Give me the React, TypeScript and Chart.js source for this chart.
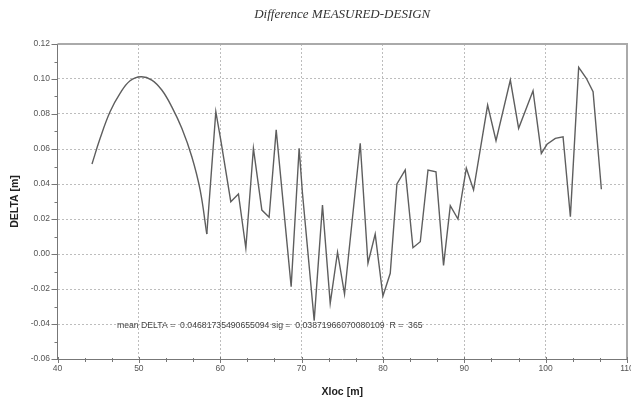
import React, { useEffect, useRef } from "react";
import { Chart, registerables } from "chart.js";

Chart.register(...registerables);

const chartTitle = "Difference MEASURED-DESIGN";
const xAxisTitle = "Xloc [m]";
const yAxisTitle = "DELTA [m]";
const statsText = "mean DELTA =  0.04681735490655094 sig =  0.03871966070080109  R =  365";

const xTickValues = [40, 50, 60, 70, 80, 90, 100, 110];
const xTickLabels = ["40", "50", "60", "70", "80", "90", "100", "110"];
const yTickValues = [-0.06, -0.04, -0.02, 0, 0.02, 0.04, 0.06, 0.08, 0.1, 0.12];
const yTickLabels = ["-0.06", "-0.04", "-0.02", "0.00", "0.02", "0.04", "0.06", "0.08", "0.10", "0.12"];
const xMinorPerMajor = 3;
const yMinorPerMajor = 2;

// smooth arc at the start of the run
const arcX = [44.24, 45.23, 46.46, 47.69, 48.92, 50.27, 51.59, 52.82, 54.05, 55.28, 56.51, 57.53, 58.35];
const arcDelta = [0.0514, 0.066, 0.0813, 0.0918, 0.099, 0.1013, 0.0994, 0.0937, 0.0841, 0.0718, 0.0556, 0.0366, 0.0114];

// measured zig-zag part
const zigX = [
  58.35, 59.46, 60.07, 61.3, 62.24, 63.15, 64.08, 65.12, 66.01, 66.88, 68.72, 69.7, 70.11, 71.55,
  72.57, 73.52, 74.42, 75.28, 77.21, 78.16, 79.05, 80.0, 80.9, 81.72, 82.74, 83.69, 84.59, 85.54,
  86.52, 87.45, 88.28, 89.22, 90.25, 91.14, 92.87, 93.9, 95.66, 96.68, 98.45, 99.47, 100.17,
  101.19, 102.14, 103.04, 104.06, 105.0, 105.83, 106.85,
];
const zigDelta = [
  0.0114, 0.0813, 0.0651, 0.0299, 0.0343, 0.0033, 0.0604, 0.0251, 0.021, 0.0709, -0.0187, 0.0604,
  0.0347, -0.0381, 0.028, -0.0282, 0.001, -0.0229, 0.0633, -0.0053, 0.0114, -0.024, -0.011, 0.04,
  0.048, 0.0036, 0.007, 0.048, 0.047, -0.0065, 0.0276, 0.02, 0.049, 0.0366, 0.0851, 0.0647, 0.0994,
  0.0718, 0.0933, 0.0575, 0.0627, 0.0661, 0.067, 0.0213, 0.1067, 0.1004, 0.0927, 0.037,
];

const SANS = "'Liberation Sans', Arial, sans-serif";
const SERIF = "'Liberation Serif', 'Times New Roman', serif";

const decorPlugin = {
  id: "decor",
  beforeDatasetsDraw(chart: any) {
    const { ctx } = chart;
    const xs = chart.scales.x;
    const ys = chart.scales.y;
    ctx.save();
    ctx.font = `8.7px ${SANS}`;
    ctx.fillStyle = "#444";
    ctx.textBaseline = "middle";
    ctx.textAlign = "left";
    ctx.fillText(statsText, xs.getPixelForValue(47.3), ys.getPixelForValue(-0.041));
    ctx.restore();
  },
  afterDraw(chart: any) {
    const { ctx, chartArea } = chart;
    const { left, right, top, bottom } = chartArea;
    const xs = chart.scales.x;
    const ys = chart.scales.y;
    ctx.save();
    // title
    ctx.font = `italic 13px ${SERIF}`;
    ctx.fillStyle = "#333";
    ctx.textAlign = "center";
    ctx.textBaseline = "middle";
    ctx.fillText(chartTitle, (left + right) / 2, 15);

    // frame top & right
    ctx.strokeStyle = "#aaa";
    ctx.lineWidth = 2;
    ctx.beginPath();
    ctx.moveTo(left, top);
    ctx.lineTo(right, top);
    ctx.lineTo(right, bottom);
    ctx.stroke();

    // tick marks
    ctx.strokeStyle = "#777";
    ctx.lineWidth = 1;
    ctx.beginPath();
    for (let i = 0; i < xTickValues.length; i++) {
      const p = Math.round(xs.getPixelForValue(xTickValues[i])) + 0.5;
      ctx.moveTo(p, bottom - 2);
      ctx.lineTo(p, bottom + 4);
      if (i < xTickValues.length - 1) {
        const a = xTickValues[i];
        const b = xTickValues[i + 1];
        for (let k = 1; k < xMinorPerMajor; k++) {
          const q = Math.round(xs.getPixelForValue(a + ((b - a) * k) / xMinorPerMajor)) + 0.5;
          ctx.moveTo(q, bottom - 1);
          ctx.lineTo(q, bottom + 3);
        }
      }
    }
    for (let i = 0; i < yTickValues.length; i++) {
      const p = Math.round(ys.getPixelForValue(yTickValues[i])) + 0.5;
      ctx.moveTo(left - 6, p);
      ctx.lineTo(left, p);
      if (i < yTickValues.length - 1) {
        const a = yTickValues[i];
        const b = yTickValues[i + 1];
        for (let k = 1; k < yMinorPerMajor; k++) {
          const q = Math.round(ys.getPixelForValue(a + ((b - a) * k) / yMinorPerMajor)) + 0.5;
          ctx.moveTo(left - 3, q);
          ctx.lineTo(left, q);
        }
      }
    }
    ctx.stroke();
    ctx.restore();
  },
};

export default function App() {
  const canvasRef = useRef<HTMLCanvasElement | null>(null);

  useEffect(() => {
    if (!canvasRef.current) return;
    const lineColor = "#5e5e5e";
    const chart = new Chart(canvasRef.current, {
      type: "line",
      data: {
        datasets: [
          {
            data: arcX.map((x, i) => ({ x, y: arcDelta[i] })),
            borderColor: lineColor,
            borderWidth: 1.4,
            pointRadius: 0,
            fill: false,
            tension: 0.4,
          },
          {
            data: zigX.map((x, i) => ({ x, y: zigDelta[i] })),
            borderColor: lineColor,
            borderWidth: 1.4,
            pointRadius: 0,
            fill: false,
            tension: 0,
          },
        ],
      },
      options: {
        animation: false,
        responsive: false,
        devicePixelRatio: 1,
        layout: { padding: { top: 44, right: 4, bottom: 0, left: 0 } },
        plugins: {
          legend: { display: false },
          tooltip: { enabled: false },
          title: { display: false },
        },
        scales: {
          x: {
            type: "linear",
            min: 40,
            max: 110,
            afterBuildTicks: (s: any) => {
              s.ticks = xTickValues.map((v) => ({ value: v }));
            },
            afterFit: (s: any) => {
              s.height = 41;
              s.paddingRight = 0;
              s.paddingLeft = 0;
            },
            grid: {
              drawTicks: false,
              color: (c: any) =>
                c.index === 0 || c.index === xTickValues.length - 1 ? "rgba(0,0,0,0)" : "#bdbdbd",
              lineWidth: 1,
            },
            border: { display: true, color: "#777", width: 1, dash: [2, 2] },
            ticks: {
              padding: 5,
              color: "#555",
              autoSkip: false,
              maxRotation: 0,
              font: { family: SANS, size: 8.5 },
              callback: (_v: any, i: number) => xTickLabels[i],
            },
            title: {
              display: true,
              text: xAxisTitle,
              color: "#222",
              font: { family: SANS, size: 10.5, weight: "bold" },
              padding: { top: 10, bottom: 2 },
            },
          },
          y: {
            type: "linear",
            min: -0.06,
            max: 0.12,
            afterBuildTicks: (s: any) => {
              s.ticks = yTickValues.map((v) => ({ value: v }));
            },
            afterFit: (s: any) => {
              s.width = 57.5;
            },
            grid: {
              drawTicks: false,
              color: (c: any) =>
                c.index === 0 || c.index === yTickValues.length - 1 ? "rgba(0,0,0,0)" : "#bdbdbd",
              lineWidth: 1,
            },
            border: { display: true, color: "#777", width: 1, dash: [2, 2] },
            ticks: {
              padding: 7.5,
              color: "#555",
              autoSkip: false,
              font: { family: SANS, size: 8.5 },
              callback: (_v: any, i: number) => yTickLabels[i],
            },
            title: {
              display: true,
              text: yAxisTitle,
              color: "#222",
              font: { family: SANS, size: 10.5, weight: "bold" },
              padding: { top: 9, bottom: 0 },
            },
          },
        },
      },
      plugins: [decorPlugin],
    } as any);
    return () => chart.destroy();
  }, []);

  return (
    <div style={{ position: "fixed", left: 0, top: 0, width: 631, height: 400, background: "#fff" }}>
      <canvas ref={canvasRef} width={631} height={400} style={{ display: "block" }} />
    </div>
  );
}
